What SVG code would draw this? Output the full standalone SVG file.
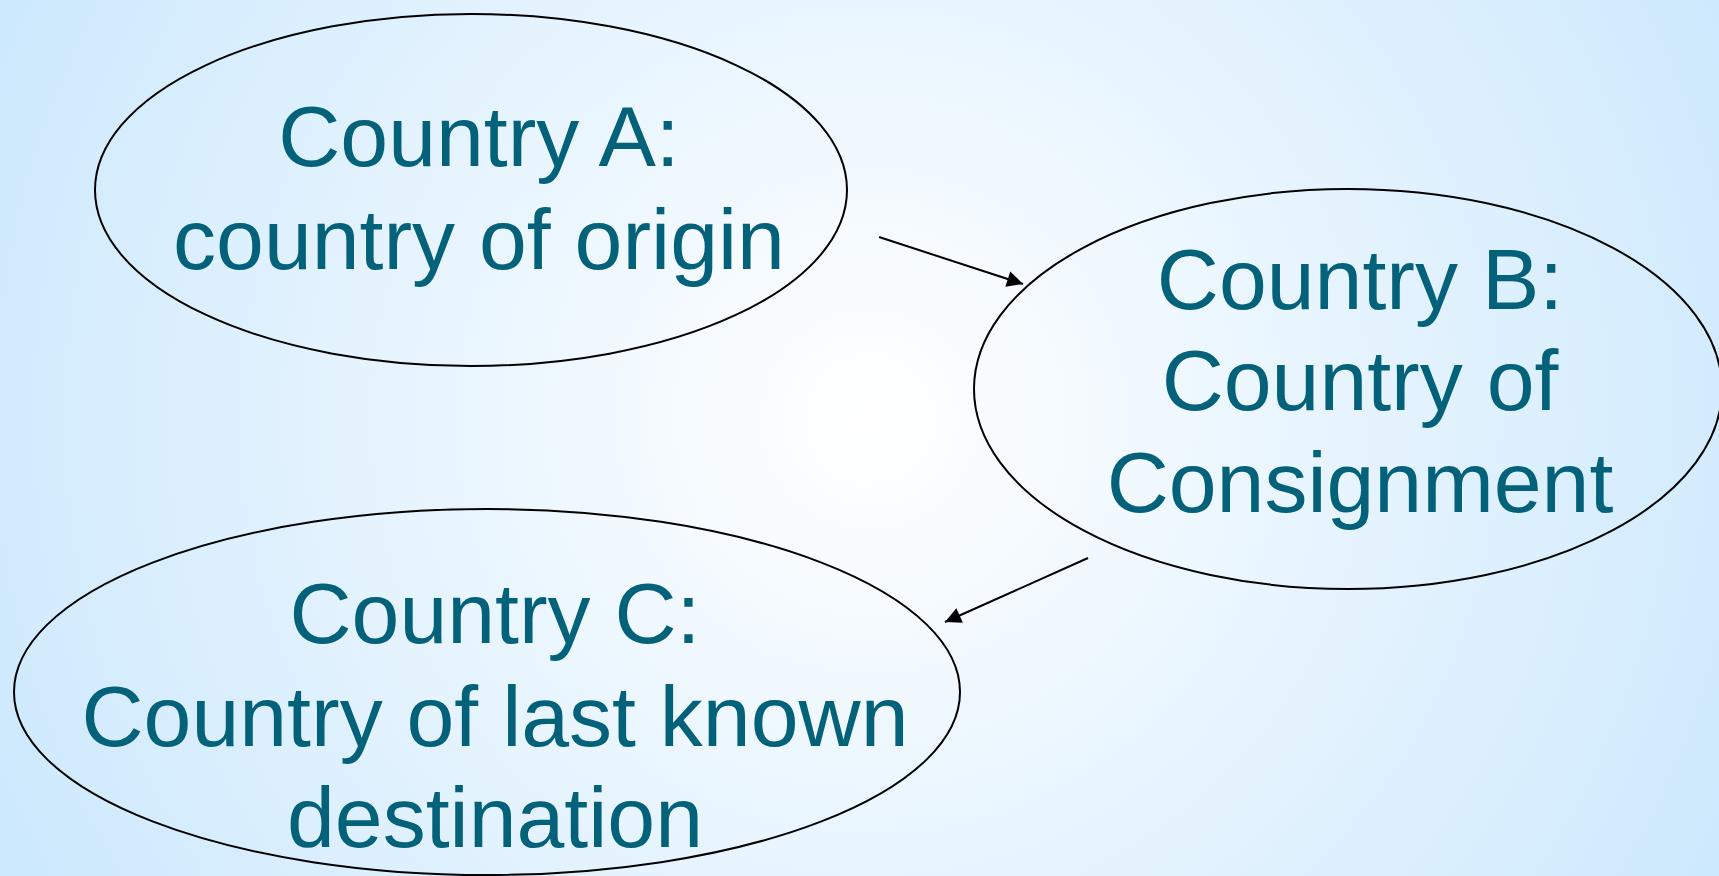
<svg xmlns="http://www.w3.org/2000/svg" width="1719" height="876" viewBox="0 0 1719 876">
  <defs>
    <radialGradient id="bg" gradientUnits="userSpaceOnUse" cx="870" cy="420" r="1000">
      <stop offset="0" stop-color="#ffffff"/>
      <stop offset="1" stop-color="#cbe8fd"/>
    </radialGradient>
    <marker id="arrow" viewBox="0 0 10 10" refX="10" refY="5" markerWidth="9" markerHeight="8" markerUnits="strokeWidth" orient="auto">
      <path d="M0,0 L10,5 L0,10 z" fill="#000"/>
    </marker>
    <style>
      .node { fill: none; stroke: #000; stroke-width: 2; }
      .label { font-family: "Liberation Sans", Arial, sans-serif; font-size: 86px; fill: #04617a; text-anchor: middle; }
      .conn { stroke: #000; stroke-width: 2; fill: none; marker-end: url(#arrow); }
    </style>
  </defs>
  <rect width="1719" height="876" fill="url(#bg)"/>
  <g id="nodeA">
    <ellipse class="node" cx="471" cy="190" rx="376" ry="176"/>
    <text class="label" x="479" y="166">Country A:</text>
    <text class="label" x="479" y="269">country of origin</text>
  </g>
  <g id="nodeB">
    <ellipse class="node" cx="1348" cy="389" rx="374" ry="200"/>
    <text class="label" x="1360" y="309">Country B:</text>
    <text class="label" x="1360" y="410">Country of</text>
    <text class="label" x="1360" y="512">Consignment</text>
  </g>
  <g id="nodeC">
    <ellipse class="node" cx="487" cy="692" rx="473" ry="183"/>
    <text class="label" x="495" y="643">Country C:</text>
    <text class="label" x="495" y="746">Country of last known</text>
    <text class="label" x="495" y="847">destination</text>
  </g>
  <g id="connectors">
    <line class="conn" x1="879" y1="237" x2="1023" y2="284"/>
    <line class="conn" x1="1088" y1="558" x2="945" y2="622"/>
  </g>
</svg>
